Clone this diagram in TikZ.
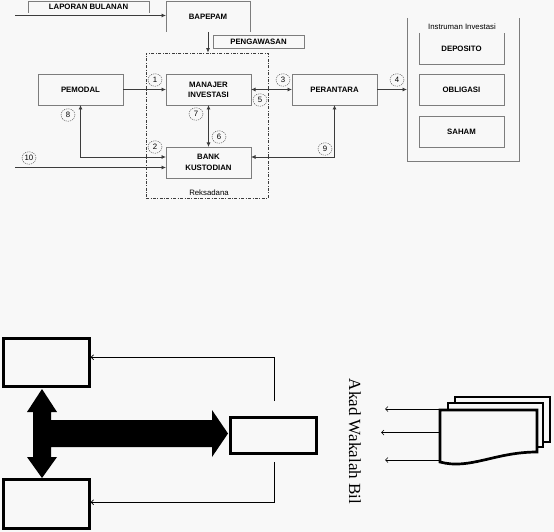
\documentclass[tikz,border=0pt]{standalone}
\usepackage{fontspec}
\setmainfont{Liberation Sans}
\newfontfamily\akadfont{Liberation Serif}
\usetikzlibrary{arrows.meta,shapes.geometric}
\definecolor{bgcol}{RGB}{248,248,248}
\definecolor{boxgray}{RGB}{125,125,125}
\definecolor{linegray}{RGB}{60,60,60}
\newcommand{\lblfont}{\fontsize{7.8}{10}\selectfont}
\newcommand{\tip}{Latex[length=4.5pt,width=4pt]}
\tikzset{
  unit/.style={minimum width=85pt, minimum height=31pt, inner sep=0pt, outer sep=0pt,
               font=\lblfont\bfseries, align=center},
  unitbox/.style={unit, draw=boxgray, line width=0.8pt},
  num/.style={ellipse, draw=linegray, dash pattern=on 1.2pt off 1pt, minimum width=14pt,
              minimum height=12.5pt, inner sep=0.5pt, font=\lblfont},
  link/.style={draw=linegray, line width=0.8pt, -{\tip}},
  bilink/.style={link, {\tip}-{\tip}},
  fatbox/.style={draw, line width=2.7pt, minimum width=86pt, minimum height=48pt, inner sep=0pt},
  thinlink/.style={line width=0.7pt, -{Straight Barb[length=2.5pt,width=5pt]}}
}

\begin{document}
\begin{tikzpicture}[x=1pt,y=-1pt] % 554 x 532
   \fill[bgcol] (0,0) rectangle (554,532);
   \useasboundingbox (0,0) rectangle (554,532);

   % skema reksadana
   \node[unit, minimum width=121pt, minimum height=11.5pt] (laporan) at (88.5,7.25) {LAPORAN BULANAN};
   \draw[boxgray, line width=0.8pt] (laporan.south west) |- (laporan.north east) -- (laporan.south east);
   \node[unit, minimum width=84pt] (bapepam) at (208,16.5) {BAPEPAM};
   \draw[boxgray, line width=0.8pt] (bapepam.south west) |- (bapepam.north east) -- (bapepam.south east);
   \node[unitbox, minimum width=91pt, minimum height=13pt] (pengawasan) at (258.5,41.5) {PENGAWASAN};
   \node[draw=linegray, line width=0.7pt, dash pattern=on 3pt off 1.5pt on 0.8pt off 1.5pt,
         minimum width=122pt, minimum height=145pt] (reksadana) at (207,125.5) {};
   \node[font=\lblfont] (rekslabel) at (209,192.5) {Reksadana};
   \node[unitbox] (pemodal) at (80.5,89.5) {PEMODAL};
   \node[unitbox] (manajer) at (208.5,89.5) {MANAJER\\INVESTASI};
   \node[unitbox, font=\fontsize{7.8}{11.5}\selectfont\bfseries] (bank) at (208.5,162.5) {BANK\\KUSTODIAN};
   \node[unitbox] (perantara) at (334.5,89.5) {PERANTARA};

   % instrumen investasi
   \node[unit, minimum width=112pt, minimum height=143pt] (instrumen) at (463,89.5) {};
   \draw[boxgray, line width=0.8pt] (instrumen.north west) |- (instrumen.south east) -- (instrumen.north east);
   \node[font=\lblfont] (insttitle) at (462,27) {Instruman Investasi};
   \node[unit] (deposito) at (461.5,48.5) {DEPOSITO};
   \draw[boxgray, line width=0.8pt] (deposito.north west) |- (deposito.south east) -- (deposito.north east);
   \node[unitbox] (obligasi) at (461.5,89.5) {OBLIGASI};
   \node[unitbox] (saham) at (461.5,131.5) {SAHAM};

   \coordinate (lapin) at (15,15.5);
   \coordinate (in10) at (15,167.5);
   \draw[link] (lapin) -- (lapin -| bapepam.west);
   \draw[link] (bapepam.south) -- (bapepam.south |- reksadana.north);
   \draw[link] (pemodal) -- (manajer);
   \draw[bilink] (manajer) -- (perantara);
   \draw[link] (perantara) -- (instrumen);
   \draw[bilink] (manajer) -- (bank);
   \draw[bilink] (pemodal.south) |- ([yshift=5.5pt]bank.west);
   \draw[link] (in10) -- (in10 -| bank.west);
   \draw[bilink] (perantara.south) |- ([yshift=5.5pt]bank.east);

   \foreach \n/\x/\y in {1/155/80, 2/155/147, 3/283/80, 4/397/80, 5/260/100,
                         6/219/137, 7/196/114, 8/68/115, 9/325/149, 10/29/158}
      \node[num] (n\n) at (\x,\y) {\n};

   % akad wakalah
   \node[fatbox] (pihakA) at (46.3,362.5) {};
   \node[fatbox, minimum height=49.4pt] (pihakB) at (46.3,504) {};
   \node[fatbox, minimum height=36.4pt] (pihakC) at (273.5,435.5) {};
   \fill (42,389) -- (57,412) -- (51,412) -- (51,420) -- (212,420) -- (212,410) -- (228,433.5)
         -- (212,457) -- (212,447) -- (51,447) -- (51,457) -- (57,457) -- (42,478)
         -- (27,457) -- (33,457) -- (33,412) -- (27,412) -- cycle;
   \coordinate (cup) at (274,401);
   \coordinate (cdown) at (274,462);
   \draw[thinlink] (cup) |- ([yshift=5.2pt]pihakA.east);
   \draw[thinlink] (cdown) |- ([yshift=1.7pt]pihakB.east);

   \node[font=\akadfont\fontsize{17}{20}\selectfont, rotate=-90] (akad) at (355,441.5) {Akad Wakalah Bil};

   \draw[line width=2.7pt, fill=bgcol] (455,397) rectangle (550,442);
   \draw[line width=2.7pt, fill=bgcol] (448,403) rectangle (543,447);
   \draw[line width=2.7pt, fill=bgcol] (440,410) -- (537,410) -- (537,452)
         .. controls (495,452) and (470,470) .. (440,462) -- cycle;
   \foreach \i/\y/\t in {1/409/385, 2/432.5/381, 3/460/385} {
      \coordinate (doc\i) at (440,\y);
      \coordinate (ak\i) at (\t,\y);
      \draw[thinlink] (doc\i) -- (ak\i);
   }
\end{tikzpicture}
\end{document}
